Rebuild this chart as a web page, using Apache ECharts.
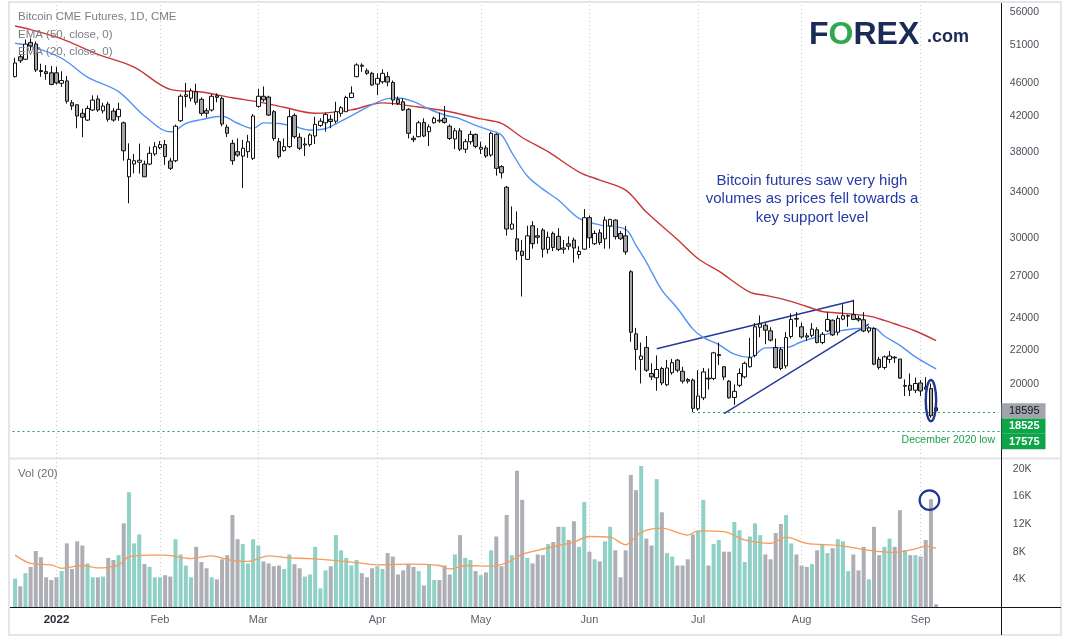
<!DOCTYPE html>
<html><head><meta charset="utf-8">
<script src="https://cdn.jsdelivr.net/npm/echarts@6/dist/echarts.min.js"></script>
<style>html,body{margin:0;padding:0;background:#fff}#c{width:1071px;height:642px}</style>
</head><body><div id="c"></div>
<script>
// ---------- DATA ----------
const tradingDays = {
  '2021-12': [21,22,23,27,28,29,30,31],
  '2022-01': [3,4,5,6,7,10,11,12,13,14,18,19,20,21,24,25,26,27,28,31],
  '2022-02': [1,2,3,4,7,8,9,10,11,14,15,16,17,18,22,23,24,25,28],
  '2022-03': [1,2,3,4,7,8,9,10,11,14,15,16,17,18,21,22,23,24,25,28,29,30,31],
  '2022-04': [1,4,5,6,7,8,11,12,13,14,18,19,20,21,22,25,26,27,28,29],
  '2022-05': [2,3,4,5,6,9,10,11,12,13,16,17,18,19,20,23,24,25,26,27,31],
  '2022-06': [1,2,3,6,7,8,9,10,13,14,15,16,17,21,22,23,24,27,28,29,30],
  '2022-07': [1,5,6,7,8,11,12,13,14,15,18,19,20,21,22,25,26,27,28,29],
  '2022-08': [1,2,3,4,5,8,9,10,11,12,15,16,17,18,19,22,23,24,25,26,29,30,31],
  '2022-09': [1,2,6,7]
};
const emptyDays = { '2022-09': [8,9,12,13,14,15,16,19,20,21,22,23] };
const monthNames = {'01':'2022','02':'Feb','03':'Mar','04':'Apr','05':'May','06':'Jun','07':'Jul','08':'Aug','09':'Sep'};

// [open, close, low, high]
const ohlc = [
[46800,48600,46700,49300],[49450,48900,48600,49800],[49100,51200,49000,51850],[51440,50950,50300,52000],
[51220,47670,47400,51580],[47600,47470,46780,48500],[47450,47200,46400,48300],[47300,45800,45700,48200],
[47300,46000,45800,48100],[45950,46300,45500,47500],[46250,43730,43450,46900],[43550,43150,42680,43870],
[43300,41980,40580,43350],[42290,41830,39580,42830],[41510,42870,41400,43200],[42680,43870,42560,44440],
[44000,42680,42470,44440],[42590,43150,42290,43550],[43380,41600,41330,43660],[42560,41510,41330,42900],
[41900,42760,41430,43550],[41200,38130,37110,41350],[35490,37240,32980,38930],[36760,37100,35830,37800],
[36950,37150,35800,38900],[36760,35490,35460,37110],[36760,37870,36650,38570],[37800,38570,37600,39050],
[38460,38790,38300,39170],[38800,37520,36680,39280],[37070,36330,36160,37400],[37100,40810,36950,41000],
[41430,44340,41300,44600],[44300,44500,43000,46000],[44100,45000,43700,45300],[44900,43600,43300,45900],
[43960,42290,42000,44200],[42600,42300,41800,42900],[42680,44330,42500,44600],[44400,44200,43600,44700],
[44070,41060,40800,44300],[40700,40020,39600,41000],[38930,37100,36680,39300],[38040,37680,37500,39460],
[37580,38400,34400,39300],[38040,39100,37400,39850],[37350,41980,37170,42200],
[43110,44330,42950,45270],[44330,43900,43660,45550],[44230,42090,41980,44400],[42480,39450,39200,42680],
[39110,37520,37350,39500],[38150,38570,38040,39450],[38570,41900,38430,42760],[42050,39650,39450,42290],
[39580,38400,38210,40020],[38750,38850,37590,39530],[38790,39840,38570,40020],[39720,41020,38850,41900],
[40900,41380,40740,41720],[41200,42170,40200,42360],[41600,41350,40580,42090],[41380,42480,41120,43660],
[42290,42950,41900,43150],[42480,44180,42440,44400],[44180,44720,44100,45560],[46800,48340,46720,48560],
[48300,48170,47430,48560],[47570,47230,47000,47880],[47230,45730,45650,47430],
[45850,46580,44460,47230],[46140,47230,45900,47760],[46800,46100,45570,47430],[46060,43870,43260,46300],
[43960,43460,43260,44300],[43660,42680,42560,44100],[42760,40020,39450,42900],[39480,39320,39050,39750],
[39650,41200,39580,41430],[41240,39720,39600,41720],[40200,40740,38640,41020],[41200,41720,41100,41900],
[41500,41400,41200,42360],[41720,41240,41100,43150],[40810,39450,39300,41020],[39400,40300,38300,40600],
[40300,38300,38100,40600],[38300,39100,37900,39400],[39100,39900,38800,40300],[39900,38600,38400,40000],
[38300,38500,37800,39100],[38430,37590,37400,38700],[37690,40020,37500,40200],[39910,36330,35600,40020],
[36500,35880,35330,36650],[34480,30720,30170,34600],[30720,31150,30640,32700],[29900,28900,28190,32250],
[28900,28560,25500,29800],[28250,30150,28200,31000],[31000,29500,29100,31400],[30150,30030,29500,30800],
[30630,29050,28400,30800],[29050,30030,28700,30500],[30350,29200,28900,30500],[30100,29040,28900,30800],
[29050,29150,28700,29800],[29500,29300,29000,30100],[29800,29150,28000,30000],[28630,28880,28300,29300],
[29060,31700,29000,32470],
[31700,29980,29150,31900],[29500,30350,29400,30600],[30400,29600,29400,30700],[29900,31490,29100,31800],
[30980,31550,29100,31600],[31490,30080,29850,31550],[30340,29910,29800,30550],[30150,28840,28620,30980],
[27300,23100,22500,27425],[23000,22030,20800,23380],[21430,21630,20050,22450],[22150,20800,20700,22860],
[20610,20420,20240,21200],[20370,20840,19650,21670],[20900,20080,19960,21000],[19980,20930,19900,21400],
[20660,21240,20540,21460],[21390,20800,20680,21460],[20740,20180,20050,21000],[20270,20180,20050,20350],
[20240,18720,18525,20330],
[18700,19370,18600,20800],[19270,20700,19150,20930],[20350,20300,19720,20900],[20330,21820,20230,21880],
[21650,21720,21100,22450],[21000,20410,20240,21040],[20180,19270,19230,20240],[19290,19620,18900,20000],
[19950,20610,19850,20900],[20420,21200,20330,21300],[21000,21530,20950,22740],[21670,23450,21550,23690],
[23420,23630,22780,24200],[23550,23230,22350,23690],[23190,22600,22520,23420],[22150,20950,20900,22700],
[22020,20900,20800,22170],[21050,22760,20900,23110],[22830,23930,22700,24330],[24000,23950,23430,24420],
[23450,22800,22700,23720],[22870,22790,22550,23050],[22900,23300,22780,23690],[23260,22450,22400,23420],
[22450,22970,22350,23110],[23180,23930,23110,24400],[23880,22930,22860,23930],[23100,24000,22900,24200],
[23950,24180,23880,24950],[24150,24180,23450,24260],[24250,23930,23880,25270],[24000,23900,23780,24180],
[23910,23180,23100,24420],[23180,23380,23050,23490],[23340,21150,21090,23420],[21430,20960,20840,21580],
[20960,21580,20840,21670],[21430,21630,21200,21930],[21560,21520,21230,21630],[21450,20350,20300,21450],
[19900,19940,19370,20280],[19950,19680,19370,20610],[19680,20050,19530,20380],
[20080,19640,19370,20240],[19850,19740,19690,20400],[19770,18340,18240,20050],[18750,18595,18560,18800]
];

const volume = [
4100,3000,4900,5800,8100,7200,4300,3900,
4300,5200,9200,5500,9500,8900,6300,4300,4300,4400,7100,6800,7500,12100,16600,9200,10500,6200,5800,4300,
4300,4600,4400,9800,7600,6000,4300,8700,6500,5600,4300,4000,6900,7500,13300,9800,9100,6300,9800,
8900,6600,6300,5900,6000,5500,7600,6200,5600,4400,4700,8700,2700,5300,5900,10400,8200,7100,6000,6800,4900,4300,5600,
5900,5500,7800,7300,4700,5300,6200,5800,5200,3100,6200,3900,3900,6000,4700,7600,10400,7100,6800,5200,
4600,5000,8200,10200,5900,13300,7500,19700,15500,7100,6300,7600,7500,9100,9400,11600,11600,9700,12400,8700,15200,
8000,6900,6600,9500,11600,8200,4300,8200,19100,16900,20400,9900,8900,18500,13700,7800,7300,6000,6000,6900,10500,
11000,15500,6000,9100,9700,8000,8000,12300,11100,6500,10200,12100,10400,7600,6900,10700,12000,13300,9200,7600,
6000,5800,6200,8200,9100,7800,8500,9800,9500,5200,7600,5300,8700,4000,11600,7500,8700,9900,8700,14000,8200,7500,7500,
7300,9700,15600,400
];

const ema50 = [
['2021-12-21',53830],['2021-12-27',53300],['2022-01-04',51950],['2022-01-13',49780],['2022-01-25',48050],
['2022-02-03',45190],['2022-02-11',44850],['2022-02-22',44150],['2022-03-01',43650],['2022-03-08',43000],
['2022-03-16',42300],['2022-03-25',42700],['2022-04-04',43530],['2022-04-12',43110],['2022-04-22',42480],
['2022-05-02',41640],['2022-05-06',41140],['2022-05-12',39560],['2022-05-19',38040],['2022-05-27',35960],
['2022-06-03',35170],['2022-06-10',34210],['2022-06-16',32190],['2022-06-27',29840],['2022-07-01',28300],
['2022-07-08',27350],['2022-07-18',25800],['2022-07-21',25580],['2022-07-27',25240],['2022-08-02',24800],
['2022-08-05',24460],['2022-08-09',24390],['2022-08-18',24150],['2022-08-23',23870],['2022-08-26',23530],
['2022-08-31',23180],['2022-09-07',22570]
];
const ema20 = [
['2021-12-21',51320],['2021-12-27',50900],['2022-01-04',49240],['2022-01-11',46730],['2022-01-20',44900],
['2022-01-27',41980],['2022-02-03',40190],['2022-02-04',40330],['2022-02-08',41120],['2022-02-11',41560],
['2022-02-17',41950],['2022-02-23',41150],['2022-02-28',40560],['2022-03-02',41190],['2022-03-07',41120],
['2022-03-10',40780],['2022-03-15',40380],['2022-03-18',40550],['2022-03-23',41390],['2022-03-28',42330],
['2022-03-31',43310],['2022-04-05',44050],['2022-04-07',44120],['2022-04-12',43680],['2022-04-18',42800],
['2022-04-21',42100],['2022-04-26',41650],['2022-04-29',40900],['2022-05-04',40320],['2022-05-06',39830],
['2022-05-10',37950],['2022-05-13',35560],['2022-05-18',34300],['2022-05-23',33280],['2022-05-27',31630],
['2022-06-03',31080],['2022-06-10',30690],['2022-06-14',29360],['2022-06-16',28040],['2022-06-22',25950],
['2022-06-27',24680],['2022-06-30',23300],['2022-07-05',22780],['2022-07-08',22320],['2022-07-13',21740],
['2022-07-18',21550],['2022-07-21',22120],['2022-07-27',22140],['2022-08-01',22500],['2022-08-05',22890],
['2022-08-11',23230],['2022-08-17',23360],['2022-08-19',23360],['2022-08-23',22860],['2022-08-26',22280],
['2022-08-31',21580],['2022-09-07',20880]
];
const volMa = [
['2021-12-21',7500],['2021-12-27',6300],['2021-12-31',6100],['2022-01-04',5600],['2022-01-10',6000],
['2022-01-13',5650],['2022-01-20',6100],['2022-01-24',7250],['2022-01-28',7500],['2022-02-02',7500],
['2022-02-09',7000],['2022-02-15',7400],['2022-02-22',6700],['2022-02-25',6600],['2022-03-03',7400],
['2022-03-09',7100],['2022-03-15',7000],['2022-03-25',6500],['2022-04-01',6100],['2022-04-11',6200],
['2022-04-20',6000],['2022-04-22',5500],['2022-04-27',6000],['2022-05-04',5900],['2022-05-09',6400],
['2022-05-12',7600],['2022-05-17',8200],['2022-05-23',8900],['2022-05-26',9400],['2022-06-01',10200],
['2022-06-07',10100],['2022-06-10',9000],['2022-06-15',10800],['2022-06-22',11400],['2022-06-29',10400],
['2022-07-01',11000],['2022-07-11',10900],['2022-07-15',9700],['2022-07-22',9200],['2022-07-27',10100],
['2022-08-02',9200],['2022-08-10',8900],['2022-08-18',8200],['2022-08-25',7900],['2022-08-31',8400],
['2022-09-02',8800],['2022-09-07',8500]
];

const priceTicks = [20000,22000,24000,27000,30000,34000,38000,42000,46000,51000,56000];
const volTicks = [4000,8000,12000,16000,20000];
const lastPrice = 18595, julyLow = 18525, dec2020Low = 17575;
const upperTrend = [['2022-06-21',22070],['2022-08-15',25199]];
const lowerTrend = [['2022-07-11',18447],['2022-08-18',23628]];
const titleLines = ['Bitcoin CME Futures, 1D, CME','EMA (50, close, 0)','EMA (20, close, 0)'];
const noteText = 'Bitcoin futures saw very high\nvolumes as prices fell towards a\nkey support level';
const lowLabel = 'December 2020 low';

// ---------- BUILD ----------
const dates = [];
for (const m in tradingDays) tradingDays[m].forEach(d => dates.push(m + '-' + String(d).padStart(2,'0')));
const allDates = dates.slice();
for (const m in emptyDays) emptyDays[m].forEach(d => allDates.push(m + '-' + String(d).padStart(2,'0')));
const monthStarts = [];
dates.forEach((d,i) => { if (i > 0 && d.slice(0,7) !== dates[i-1].slice(0,7)) monthStarts.push(d); });
const monthStartSet = new Set(monthStarts);

const UP_VOL = '#8fd1c6', DOWN_VOL = '#adafb5';
const FONT = '"Liberation Sans", Arial, sans-serif';
const monthLine = {type:[1,3], color:'#c3c6cd', width:1};
const monthMarks = monthStarts.map(d => ({xAxis: d}));

const chart = echarts.init(document.getElementById('c'), null, {width:1071, height:642});
const option = {
  animation: false,
  backgroundColor: '#ffffff',
  grid: [
    {left:12.5, width:988.3, top:3, height:455},
    {left:12.5, width:988.3, top:458, height:149}
  ],
  xAxis: [
    {type:'category', gridIndex:0, data: allDates, boundaryGap:true,
     axisLine:{show:false}, axisTick:{show:false}, axisLabel:{show:false}, splitLine:{show:false}},
    {type:'category', gridIndex:1, data: allDates, boundaryGap:true,
     axisLine:{show:false}, axisTick:{show:false}, splitLine:{show:false},
     axisLabel:{interval:(i, v) => monthStartSet.has(v), margin:7, fontSize:11, color:'#5d606b', fontFamily: FONT,
       formatter: v => { const n = monthNames[v.slice(5,7)]; return n === '2022' ? '{y|2022}' : n; },
       rich:{y:{fontWeight:'bold', color:'#2a2e39', fontSize:11.5, fontFamily: FONT}}}}
  ],
  yAxis: [
    {type:'log', logBase:10, gridIndex:0, position:'right', min:16320, max:57360,
     axisLine:{show:false}, axisTick:{show:false, customValues: priceTicks}, splitLine:{show:false},
     axisLabel:{customValues: priceTicks, color:'#4c4f59', fontSize:10.5, margin:9, fontFamily: FONT,
       formatter: v => String(Math.round(v))}},
    {type:'value', gridIndex:1, position:'right', min:0, max:21550,
     axisLine:{show:false}, axisTick:{show:false, customValues: volTicks}, splitLine:{show:false},
     axisLabel:{customValues: volTicks, color:'#4c4f59', fontSize:10.5, margin:12, fontFamily: FONT,
       formatter: v => Math.round(v/1000) + 'K'}}
  ],
  series: [
    {name:'EMA50', type:'line', xAxisIndex:0, yAxisIndex:0, data: ema50, smooth:0.35, symbol:'none',
     lineStyle:{color:'#c93636', width:1.4}, z:2, silent:true},
    {name:'EMA20', type:'line', xAxisIndex:0, yAxisIndex:0, data: ema20, smooth:0.35, symbol:'none',
     lineStyle:{color:'#5393f5', width:1.4}, z:2, silent:true},
    {name:'Price', type:'candlestick', xAxisIndex:0, yAxisIndex:0, data: ohlc, barWidth:4, z:4,
     itemStyle:{color:'#ffffff', color0:'#a2a4aa', borderColor:'#111111', borderColor0:'#111111', borderWidth:1},
     markLine:{silent:true, symbol:['none','none'], label:{show:false}, lineStyle: monthLine, z:1,
       data: monthMarks.concat([
         [{coord: upperTrend[0], lineStyle:{type:'solid', color:'#24389c', width:1.4}}, {coord: upperTrend[1]}],
         [{coord: lowerTrend[0], lineStyle:{type:'solid', color:'#24389c', width:1.4}}, {coord: lowerTrend[1]}],
         [{coord: ['2022-06-30', julyLow], lineStyle:{type:[2,3], color:'#16a34a', width:1.2}},
          {coord: [allDates[allDates.length-1], julyLow]}],
         {yAxis: dec2020Low, lineStyle:{type:[2,3], color:'#16a34a', width:1.2}}
       ])}},
    {name:'Volume', type:'bar', xAxisIndex:1, yAxisIndex:1, data: volume, barWidth:4,
     itemStyle:{color: p => ohlc[p.dataIndex][1] >= ohlc[p.dataIndex][0] ? UP_VOL : DOWN_VOL},
     markLine:{silent:true, symbol:['none','none'], label:{show:false}, lineStyle: monthLine, data: monthMarks}},
    {name:'Vol MA', type:'line', xAxisIndex:1, yAxisIndex:1, data: volMa, smooth:0.3, symbol:'none',
     lineStyle:{color:'#f79a5a', width:1.3}, z:3, silent:true}
  ]
};
chart.setOption(option);

// ---------- overlays positioned through the chart's own scales ----------
const g = [];
g.push({type:'rect', shape:{x:9,y:2,width:1052,height:633}, style:{fill:'none', stroke:'#e4e5eb', lineWidth:2}, silent:true, z:50});
g.push({type:'line', shape:{x1:1001.5,y1:3,x2:1001.5,y2:635}, style:{stroke:'#131722', lineWidth:1}, z:50});
g.push({type:'line', shape:{x1:10,y1:607.5,x2:1061,y2:607.5}, style:{stroke:'#131722', lineWidth:1}, z:50});
g.push({type:'line', shape:{x1:10,y1:458.5,x2:1061,y2:458.5}, style:{stroke:'#e2e4ea', lineWidth:2}, z:49});

titleLines.forEach((t,i) => g.push({type:'text', x:18, y:17 + i*17.5, z:60,
  style:{text:t, fill:'#7a7d86', font:'11.5px ' + FONT, verticalAlign:'middle'}}));
g.push({type:'text', x:18, y:474, z:60, style:{text:'Vol (20)', fill:'#6a6d76', font:'11.5px ' + FONT, verticalAlign:'middle'}});

g.push({type:'text', x:812, y:171.5, z:60, style:{text: noteText, fill:'#2639a8', font:'15px ' + FONT,
  align:'center', verticalAlign:'top', lineHeight:18.5}});

// support label under the December 2020 low line
const yLow = chart.convertToPixel({yAxisIndex:0}, dec2020Low);
g.push({type:'text', x:995, y:yLow + 8.5, z:60, style:{text: lowLabel, fill:'#1aa34a', font:'10.5px ' + FONT,
  align:'right', verticalAlign:'middle'}});

// logo
g.push({type:'text', x:809, y:35.5, z:60, style:{text:'{a|F}{b|O}{a|REX}', verticalAlign:'middle',
  rich:{a:{fontSize:32, fontWeight:'bold', fill:'#1b2b57', fontFamily: FONT},
        b:{fontSize:32, fontWeight:'bold', fill:'#2fa84f', fontFamily: FONT}}}});
g.push({type:'text', x:927, y:37, z:60, style:{text:'.com', fill:'#1b2b57', font:'bold 18px ' + FONT, verticalAlign:'middle'}});

// price tags on the axis
const tags = [
  {v: lastPrice, bg:'#a1a4ac', fg:'#131722', bold:false},
  {v: julyLow, bg:'#0ea548', fg:'#ffffff', bold:true},
  {v: dec2020Low, bg:'#0ea548', fg:'#ffffff', bold:true}
];
const tagTop = chart.convertToPixel({yAxisIndex:0}, lastPrice) - 7.5;
tags.forEach((t,i) => {
  const top = tagTop + i*15.3;
  g.push({type:'rect', shape:{x:1001.5, y:top, width:44, height:15.3}, style:{fill:t.bg}, z:55});
  g.push({type:'text', x:1009, y:top + 7.8, z:56, style:{text:String(t.v), fill:t.fg,
    font:(t.bold ? 'bold ' : '') + '11px ' + FONT, verticalAlign:'middle'}});
});

// annotation ellipses around the Sep 6 bar
const si = dates.indexOf('2022-09-06');
const pHigh = chart.convertToPixel({gridIndex:0}, [dates[si], ohlc[si][3]]);
const pLowPt = chart.convertToPixel({gridIndex:0}, [dates[si], ohlc[si][2]]);
g.push({type:'ellipse', shape:{cx:pHigh[0], cy:(pHigh[1]+pLowPt[1])/2, rx:5.2, ry:(pLowPt[1]-pHigh[1])/2 + 3.5},
  style:{fill:'none', stroke:'#1f3793', lineWidth:2.4}, z:58});
const pv = chart.convertToPixel({gridIndex:1}, [dates[si], volume[si]]);
g.push({type:'circle', shape:{cx:pv[0] - 1.5, cy:pv[1] + 1, r:9.8}, style:{fill:'none', stroke:'#1f3793', lineWidth:2.2}, z:58});

chart.setOption({graphic: g});
</script></body></html>
